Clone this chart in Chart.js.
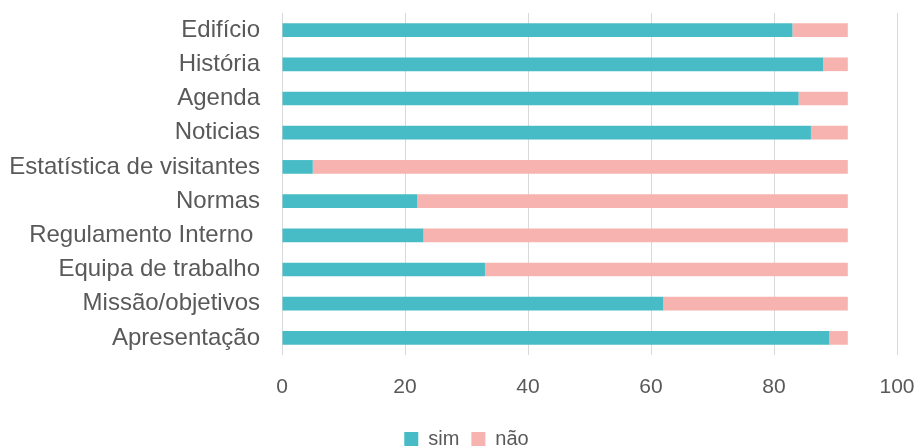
<!DOCTYPE html>
<html>
<head>
<meta charset="utf-8">
<script src="https://cdn.jsdelivr.net/npm/chart.js@4"></script>
<style>
  html, body { margin: 0; padding: 0; background: #fff; }
  #wrap { width: 915px; height: 446px; }
</style>
</head>
<body>
<div id="wrap"><canvas id="chart"></canvas></div>
<script>
// Data
const categories = ["Edifício", "História", "Agenda", "Noticias", "Estatística de visitantes", "Normas", "Regulamento Interno ", "Equipa de trabalho", "Missão/objetivos", "Apresentação"]
const simValues = [83, 88, 84, 86, 5, 22, 23, 33, 62, 89]
const naoValues = [9, 4, 8, 6, 87, 70, 69, 59, 30, 3]
const xTicks = [0, 20, 40, 60, 80, 100]

const textColor = "#595959"
const fontFamily = "'Liberation Sans', Arial, sans-serif"

// nudge the legend a bit to the right, like the original
const legendShift = {
  id: "legendShift",
  afterLayout(chart) {
    chart.legend.left += 18
    chart.legend.right += 18
  },
}

new Chart(document.getElementById("chart"), {
  type: "bar",
  data: {
    labels: categories,
    datasets: [
      { label: "sim", data: simValues, backgroundColor: "#47bcc6", barPercentage: 0.4, categoryPercentage: 1 },
      { label: "não", data: naoValues, backgroundColor: "#f6b3af", barPercentage: 0.4, categoryPercentage: 1 },
    ],
  },
  plugins: [legendShift],
  options: {
    indexAxis: "y",
    responsive: true,
    maintainAspectRatio: false,
    animation: false,
    layout: { padding: { top: 13, right: 18, left: 0, bottom: -13 } },
    plugins: {
      legend: {
        position: "bottom",
        labels: { color: textColor, font: { family: fontFamily, size: 20 }, boxWidth: 14, boxHeight: 14, padding: 12 },
      },
      tooltip: { enabled: false },
    },
    scales: {
      x: {
        stacked: true,
        min: 0,
        max: 100,
        afterBuildTicks: (axis) => { axis.ticks = xTicks.map((v) => ({ value: v })) },
        afterFit: (axis) => {
          axis.height = 62
          axis.paddingLeft = 0
          axis.paddingRight = 0
        },
        grid: { color: "#d9d9d9", drawTicks: false },
        border: { display: false },
        ticks: { color: textColor, font: { family: fontFamily, size: 21 }, padding: 20 },
      },
      y: {
        stacked: true,
        afterFit: (axis) => {
          axis.width = 282
          axis.paddingTop = 0
          axis.paddingBottom = 0
        },
        grid: { display: false },
        border: { display: false },
        ticks: { color: textColor, font: { family: fontFamily, size: 24 }, padding: 14 },
      },
    },
  },
})
</script>
</body>
</html>
